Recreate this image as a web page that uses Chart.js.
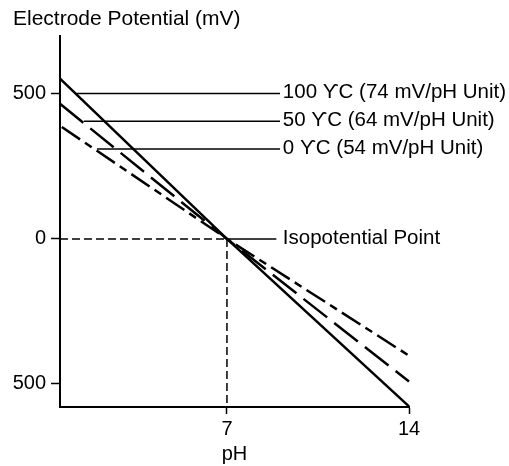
<!DOCTYPE html>
<html>
<head>
<meta charset="utf-8">
<script src="https://cdn.jsdelivr.net/npm/chart.js@4"></script>
<style>
  html, body { margin: 0; padding: 0; background: #fff; }
  #wrap { width: 509px; height: 466px; }
</style>
</head>
<body>
<div id="wrap"><canvas id="chart"></canvas></div>
<script>
// data (pH, mV)
const line100 = [{ x: 0.58, y: 553 }, { x: 7, y: 0 }, { x: 14, y: -578 }];
const line50 = [{ x: 0.58, y: 466 }, { x: 7, y: 0 }, { x: 14, y: -492 }];
const line0 = [{ x: 0.65, y: 386 }, { x: 7, y: 0 }, { x: 14, y: -403 }];

// leader lines: [fromPH, toPH, mV]
const leaders = [
  [1.2, 9.04, 502],
  [1.5, 9.04, 406],
  [2.0, 9.04, 310],
  [7, 8.9, 0],
];
const leaderLabels = [
  "100 ϒC (74 mV/pH Unit)",
  "50 ϒC (64 mV/pH Unit)",
  "0 ϒC (54 mV/pH Unit)",
  "Isopotential Point",
];
const labelPH = 9.15;

const yTickValues = [-500, 0, 500];
const yTickLabels = ["500", "0", "500"];
const xTickValues = [7, 14];
const xTickLabels = ["7", "14"];

const xMin = 0.58, xMax = 14;
const yMin = -580, yMax = 700;

const FONT = "'Liberation Sans', Arial, Helvetica, sans-serif";
const black = "#000";

const base = { showLine: true, pointRadius: 0, fill: false, borderColor: black, clip: false };

const datasets = [
  { ...base, label: "100", data: line100, borderWidth: 2.5 },
  { ...base, label: "50", data: line50, borderWidth: 2.5, borderDash: [30, 9] },
  { ...base, label: "0", data: line0, borderWidth: 2.5, borderDash: [22, 6, 8, 6] },
  // isopotential guides
  { ...base, label: "h", data: [{ x: xMin, y: 0 }, { x: 7, y: 0 }], borderWidth: 1.5, borderDash: [8, 4] },
  { ...base, label: "v", data: [{ x: 7, y: 0 }, { x: 7, y: yMin }], borderWidth: 1.5, borderDash: [8, 4] },
  ...leaders.map((l, i) => ({
    ...base,
    label: "lead" + i,
    data: [{ x: l[0], y: l[2] }, { x: l[1], y: l[2] }],
    borderWidth: 1.5,
  })),
];

// texts: title and leader labels
const textPlugin = {
  id: "texts",
  afterDraw(chart) {
    const { ctx, scales } = chart;
    ctx.save();
    ctx.fillStyle = black;
    ctx.textBaseline = "middle";
    ctx.textAlign = "left";
    ctx.font = "21px " + FONT;
    ctx.fillText("Electrode Potential (mV)", 13, 19);
    ctx.font = "20.5px " + FONT;
    leaders.forEach((l, i) => {
      ctx.fillText(leaderLabels[i], scales.x.getPixelForValue(labelPH), scales.y.getPixelForValue(l[2]) - 1);
    });
    ctx.restore();
  },
};

new Chart(document.getElementById("chart").getContext("2d"), {
  type: "scatter",
  data: { datasets },
  options: {
    responsive: true,
    maintainAspectRatio: false,
    animation: false,
    layout: { padding: { left: 0, right: 100, top: 36, bottom: 0 } },
    plugins: { legend: { display: false }, tooltip: { enabled: false } },
    scales: {
      x: {
        type: "linear",
        min: xMin,
        max: xMax,
        afterBuildTicks(scale) {
          scale.ticks = xTickValues.map((v) => ({ value: v }));
        },
        afterFit(scale) {
          scale.height = 59;
        },
        ticks: {
          color: black,
          padding: 3,
          font: { family: FONT, size: 20 },
          callback: (v) => xTickLabels[xTickValues.indexOf(v)],
        },
        grid: { drawOnChartArea: false, tickLength: 7, tickColor: black, tickWidth: 1.5 },
        border: { color: black, width: 2 },
        title: { display: true, text: "pH", color: black, font: { family: FONT, size: 20 }, padding: 0 },
      },
      y: {
        type: "linear",
        min: yMin,
        max: yMax,
        afterBuildTicks(scale) {
          scale.ticks = yTickValues.map((v) => ({ value: v }));
        },
        afterFit(scale) {
          scale.width = 60;
        },
        ticks: {
          color: black,
          padding: 5,
          font: { family: FONT, size: 20 },
          callback: (v) => yTickLabels[yTickValues.indexOf(v)],
        },
        grid: { drawOnChartArea: false, tickLength: 9, tickColor: black, tickWidth: 1.5 },
        border: { color: black, width: 2 },
      },
    },
  },
  plugins: [textPlugin],
});
</script>
</body>
</html>
